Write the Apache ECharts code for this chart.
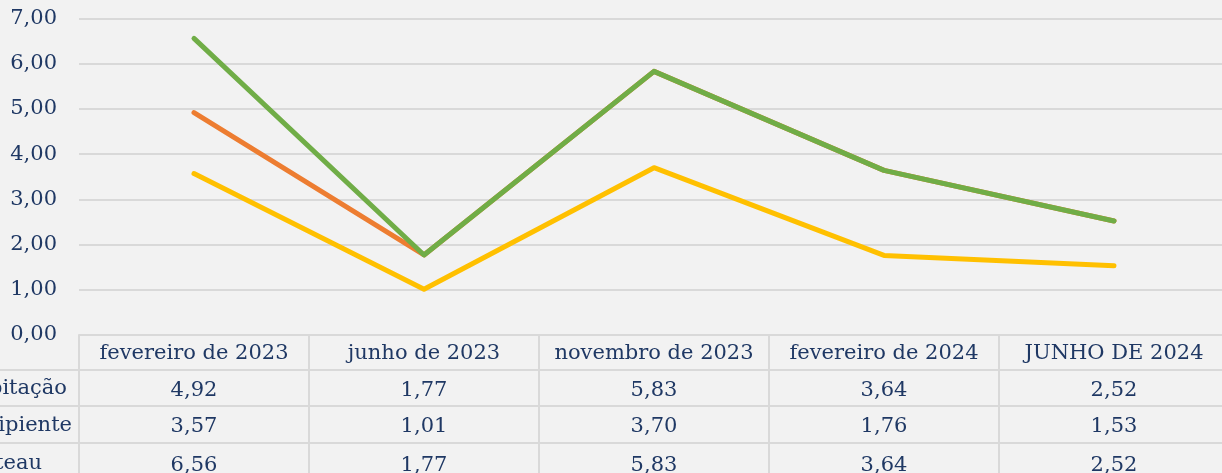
<!DOCTYPE html>
<html>
<head>
<meta charset="utf-8">
<script src="https://cdn.jsdelivr.net/npm/echarts@6/dist/echarts.min.js"></script>
<style>
  html, body { margin: 0; padding: 0; background: #F2F2F2; }
  #chart { width: 1222px; height: 473px; }
</style>
</head>
<body>
<div id="chart"></div>
<script>
const categories = ['fevereiro de 2023', 'junho de 2023', 'novembro de 2023', 'fevereiro de 2024', 'JUNHO DE 2024'];
const seriesNames = ['Precipitação', 'Incipiente', 'Plateau'];
const precipitacao = [4.92, 1.77, 5.83, 3.64, 2.52];
const incipiente = [3.57, 1.01, 3.70, 1.76, 1.53];
const plateau = [6.56, 1.77, 5.83, 3.64, 2.52];
const yTicks = [0, 1, 2, 3, 4, 5, 6, 7];

const seriesData = [precipitacao, incipiente, plateau];
const colors = ['#ED7D31', '#FFC000', '#70AD47'];
const textColor = '#1F3864';
const lineColor = '#D9D9D9';
const font = 'DejaVu Serif';

const fmt = v => v.toFixed(2).replace('.', ',');

// header row + one row per series, drawn as stacked category axes
const rowOffsets = [0, 35, 71, 108];
const rowHeights = [35, 36, 37, 40];
const nameEnds = [67, 72, 42];

const myChart = echarts.init(document.getElementById('chart'));

const xAxes = rowOffsets.map((off, r) => ({
  type: 'category',
  data: categories,
  position: 'bottom',
  offset: off,
  boundaryGap: true,
  axisLine: { show: true, lineStyle: { color: lineColor, width: 2 } },
  axisTick: { show: true, interval: 0, length: rowHeights[r], lineStyle: { color: lineColor, width: 2 } },
  axisLabel: {
    interval: 0,
    margin: rowHeights[r] / 2 + (r === 0 ? 1.5 : 2.5),
    verticalAlign: 'middle',
    color: textColor,
    fontFamily: font,
    fontSize: 21,
    formatter: r === 0 ? (v) => v : (v, i) => fmt(seriesData[r - 1][i])
  },
  splitLine: { show: false }
}));

const graphics = [];
[370, 406, 443].forEach((y, i) => {
  graphics.push({
    type: 'line',
    shape: { x1: 0, y1: y, x2: 79, y2: y },
    style: { stroke: lineColor, lineWidth: 2 }
  });
  graphics.push({
    type: 'text',
    x: nameEnds[i],
    y: y + rowHeights[i + 1] / 2 + 1,
    style: {
      text: seriesNames[i],
      align: 'right',
      verticalAlign: 'middle',
      fill: textColor,
      font: '21px "' + font + '"'
    }
  });
});

myChart.setOption({
  backgroundColor: '#F2F2F2',
  animation: false,
  color: colors,
  grid: { left: 79, width: 1150, top: 18.5, bottom: 138, containLabel: false, outerBoundsMode: 'none' },
  xAxis: xAxes,
  yAxis: {
    type: 'value',
    min: yTicks[0],
    max: yTicks[yTicks.length - 1],
    interval: 1,
    axisLine: { show: false },
    axisTick: { show: false },
    splitLine: { lineStyle: { color: lineColor, width: 2 } },
    axisLabel: {
      margin: 22,
      color: textColor,
      fontFamily: font,
      fontSize: 21,
      padding: [3, 0, 0, 0],
      formatter: v => fmt(v)
    }
  },
  graphic: graphics,
  series: seriesNames.map((name, i) => ({
    name: name,
    type: 'line',
    xAxisIndex: 0,
    data: seriesData[i],
    symbol: 'none',
    lineStyle: { width: 5, cap: 'round', join: 'round' },
    z: 3 + i
  }))
});
</script>
</body>
</html>
